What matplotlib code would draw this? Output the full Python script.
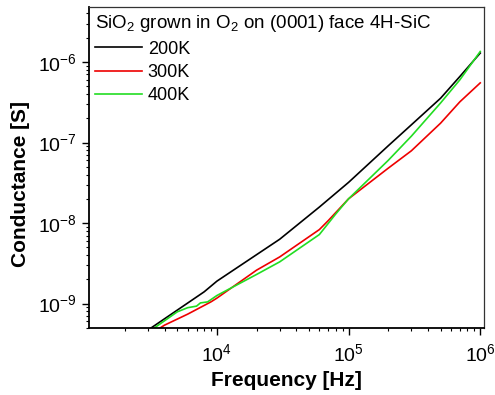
import matplotlib
matplotlib.use("Agg")
import matplotlib.pyplot as plt
from matplotlib.ticker import LogLocator, FixedLocator

plt.rcParams['font.family'] = ['Liberation Sans', 'DejaVu Sans']
plt.rcParams['mathtext.default'] = 'regular'

# values (Hz, S)
freq_200 = [3.0e3, 5.0e3, 8.0e3, 1.0e4, 3.0e4, 6.0e4, 1.0e5, 2.0e5, 3.0e5, 5.0e5, 7.0e5, 1.0e6]
g_200 = [4.7e-10, 8.3e-10, 1.4e-9, 1.9e-9, 6.3e-9, 1.58e-8, 3.2e-8, 9.1e-8, 1.66e-7, 3.55e-7, 6.6e-7, 1.29e-6]

freq_300 = [3.5e3, 4.0e3, 6.0e3, 9.0e3, 1.0e4, 2.0e4, 3.0e4, 6.0e4, 7.0e4, 1.0e5, 2.0e5, 3.0e5, 5.0e5, 7.0e5, 1.0e6]
g_300 = [4.7e-10, 5.4e-10, 7.4e-10, 1.05e-9, 1.17e-9, 2.6e-9, 3.8e-9, 8.3e-9, 1.07e-8, 2.0e-8, 4.8e-8, 7.9e-8, 1.74e-7, 3.2e-7, 5.5e-7]

freq_400 = [3.0e3, 5.0e3, 6.0e3, 7.0e3, 7.5e3, 8.5e3, 1.0e4, 2.0e4, 3.0e4, 6.0e4, 8.0e4, 1.0e5, 2.0e5, 3.0e5, 5.0e5, 7.0e5, 1.0e6]
g_400 = [4.4e-10, 7.9e-10, 8.9e-10, 9.3e-10, 1.02e-9, 1.05e-9, 1.26e-9, 2.3e-9, 3.3e-9, 7.2e-9, 1.3e-8, 2.0e-8, 6.0e-8, 1.2e-7, 3.1e-7, 6.0e-7, 1.35e-6]

x_major = [1e4, 1e5, 1e6]
y_major = [1e-9, 1e-8, 1e-7, 1e-6]

fig = plt.figure(figsize=(4.95, 3.95), dpi=100)
ax = fig.add_axes([0.18, 0.17, 0.798, 0.812])

ax.plot(freq_200, g_200, color='black', lw=1.2, label='200K')
ax.plot(freq_300, g_300, color='#ee0000', lw=1.2, label='300K')
ax.plot(freq_400, g_400, color='#22dd22', lw=1.2, label='400K')

ax.set_xscale('log')
ax.set_yscale('log')
ax.set_xlim(1070, 1.07e6)
ax.set_ylim(5e-10, 4.8e-6)

ax.xaxis.set_major_locator(FixedLocator(x_major))
ax.xaxis.set_minor_locator(LogLocator(base=10, subs=range(2, 10), numticks=20))
ax.yaxis.set_major_locator(FixedLocator(y_major))
ax.yaxis.set_minor_locator(LogLocator(base=10, subs=range(2, 10), numticks=20))

ax.tick_params(which='major', direction='out', length=5, width=1, labelsize=14)
ax.tick_params(which='minor', direction='out', length=2.5, width=0.8)
ax.tick_params(axis='x', which='major', pad=6)
ax.tick_params(axis='y', which='major', pad=4)
ax.tick_params(top=False, right=False, which='both')

for s in ['left', 'bottom']:
    ax.spines[s].set_linewidth(1.3)
for s in ['top', 'right']:
    ax.spines[s].set_linewidth(0.9)
    ax.spines[s].set_color('#333333')

ax.set_xlabel('Frequency [Hz]', fontsize=15, fontweight='bold', labelpad=4)
ax.set_ylabel('Conductance [S]', fontsize=15, fontweight='bold')
ax.yaxis.set_label_coords(-0.15, 0.45)

leg = ax.legend(title='SiO$_2$ grown in O$_2$ on (0001) face 4H-SiC', loc='upper left',
                frameon=False, fontsize=13, title_fontsize=13.5, alignment='left',
                handlelength=2.6, handletextpad=0.3, labelspacing=0.35,
                borderaxespad=0.1, borderpad=0.25)

fig.savefig('out.png', dpi=100)
